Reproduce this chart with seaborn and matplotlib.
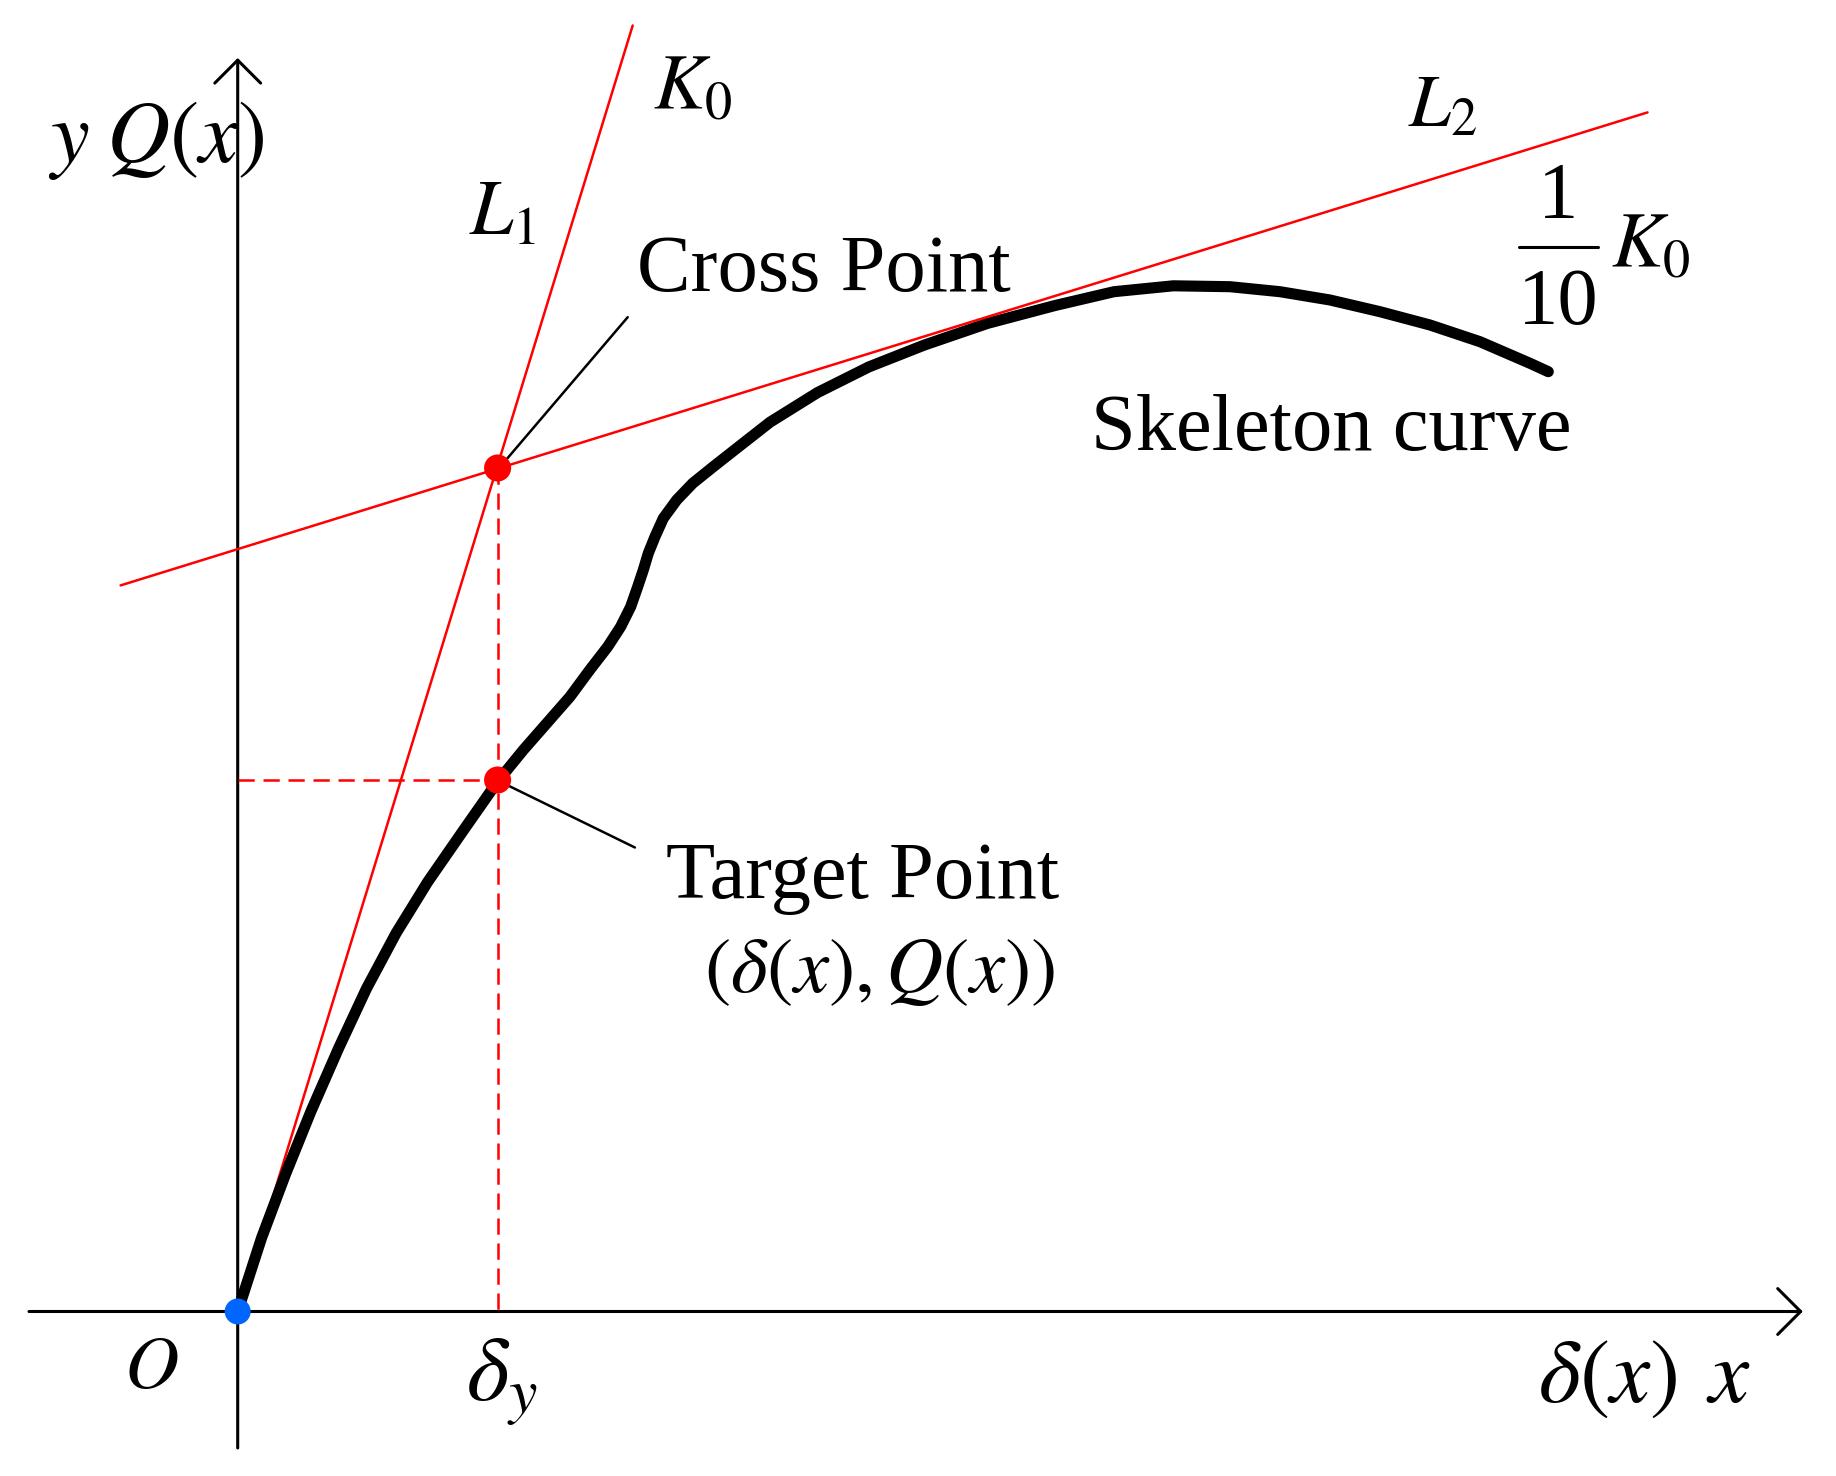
import numpy as np
import pandas as pd
import matplotlib
matplotlib.use("Agg")
import matplotlib.pyplot as plt
import seaborn as sns

# -----------------------------------
# Data (origin at O, 1 unit ~ 100 px of the figure)
# -----------------------------------
curve_x = [0.0, 0.239, 0.477, 0.733, 1.01, 1.287, 1.583, 1.90, 2.256, 2.599,
           2.856, 3.09, 3.323, 3.52, 3.70, 3.83, 3.93, 4.0, 4.056, 4.106,
           4.173, 4.256, 4.39, 4.55, 4.756, 4.99, 5.323, 5.798, 6.312, 6.865,
           7.498, 8.17, 8.763, 9.356, 9.923, 10.423, 10.923, 11.423, 11.923, 12.423,
           12.923, 13.106]
curve_y = [0.0, 0.737, 1.37, 2.003, 2.635, 3.228, 3.782, 4.296, 4.81, 5.30,
           5.615, 5.882, 6.148, 6.415, 6.648, 6.848, 7.048, 7.248, 7.415, 7.582,
           7.748, 7.932, 8.115, 8.282, 8.448, 8.632, 8.893, 9.189, 9.446, 9.664,
           9.881, 10.059, 10.198, 10.257, 10.248, 10.198, 10.115, 9.998, 9.865, 9.698,
           9.482, 9.398]

l1_x = [0.0, 3.95]
l1_y = [0.0, 12.86]
l2_x = [-1.171, 14.098]
l2_y = [7.261, 11.991]

cross_x, cross_y = 2.599, 8.435
target_x, target_y = 2.599, 5.315

x_axis_range = [-2.087, 15.651]
y_axis_range = [-1.365, 12.535]

df = pd.DataFrame({"x": curve_x, "y": curve_y})

# -----------------------------------
# Figure
# -----------------------------------
sns.set_theme(style="white")
plt.rcParams["font.family"] = ["Liberation Serif", "DejaVu Serif"]
plt.rcParams["mathtext.fontset"] = "stix"
plt.rcParams["text.color"] = "black"

fig = plt.figure(figsize=(18.36, 14.76), dpi=100)
ax = fig.add_axes([0, 0, 1, 1])
ax.set_xlim(-2.377, 15.983)
ax.set_ylim(-1.645, 13.115)
ax.axis("off")

# axes with open arrow heads
arrow_kw = dict(arrowstyle="->,head_length=16.5,head_width=16.5", mutation_scale=1,
                lw=2.2, color="black", shrinkA=0, shrinkB=0)
ax.annotate("", xy=(x_axis_range[1], 0), xytext=(x_axis_range[0], 0), arrowprops=arrow_kw)
ax.annotate("", xy=(0, y_axis_range[1]), xytext=(0, y_axis_range[0]), arrowprops=arrow_kw)

# tangent lines
ax.plot(l1_x, l1_y, color="#FF0000", lw=1.8, zorder=2)
ax.plot(l2_x, l2_y, color="#FF0000", lw=1.8, zorder=4)

# skeleton curve
sns.lineplot(data=df, x="x", y="y", sort=False, color="black", lw=8,
             solid_capstyle="round", solid_joinstyle="round", ax=ax, zorder=3)

# dashed guides
ax.plot([0, target_x], [target_y, target_y], color="#FF0000", lw=1.8,
        dashes=(6.5, 3.5), zorder=4)
ax.plot([cross_x, cross_x], [cross_y, 0], color="#FF0000", lw=1.8,
        dashes=(6.5, 3.5), zorder=4)

# leader lines
ax.plot([2.67, 3.90], [8.50, 9.943], color="black", lw=1.8, zorder=4)
ax.plot([2.673, 3.972], [5.275, 4.64], color="black", lw=1.8, zorder=4)

# points
sns.scatterplot(x=[cross_x, target_x], y=[cross_y, target_y], s=380,
                color="#FF0000", edgecolor="none", ax=ax, zorder=5)
sns.scatterplot(x=[0.0], y=[0.0], s=350, color="#0066FF", edgecolor="none",
                ax=ax, zorder=5)

# labels
fs = 58
ax.text(-1.897, 11.495, r"$y\;Q(x)$", fontsize=63, ha="left", va="baseline")
ax.text(4.153, 12.025, r"$K_0$", fontsize=56, ha="left", va="baseline")
ax.text(2.313, 10.775, r"$L_1$", fontsize=56, ha="left", va="baseline")
ax.text(11.703, 11.855, r"$L_2$", fontsize=54, ha="left", va="baseline")

# 1/10 K0 written as a stacked fraction
ax.text(13.205, 10.93, "1", fontsize=fs, ha="center", va="baseline")
ax.plot([12.813, 13.603], [10.648, 10.648], color="black", lw=2.2)
ax.text(13.205, 9.875, "10", fontsize=fs, ha="center", va="baseline")
ax.text(13.733, 10.449, r"$K_0$", fontsize=56, ha="left", va="baseline")

ax.text(3.993, 10.205, "Cross Point", fontsize=fs, ha="left", va="baseline")
ax.text(8.53, 8.615, "Skeleton curve", fontsize=fs, ha="left", va="baseline")
ax.text(4.283, 4.135, "Target Point", fontsize=fs, ha="left", va="baseline")
ax.text(6.42, 3.195, r"$(\delta(x),Q(x))$", fontsize=57, ha="center", va="baseline")
ax.text(-1.14, -0.765, r"$O$", fontsize=54, ha="left", va="baseline")
ax.text(2.283, -0.885, r"$\delta_y$", fontsize=66, ha="left", va="baseline")
ax.text(13.0, -0.905, r"$\delta(x)\;\,x$", fontsize=65, ha="left", va="baseline")

plt.savefig("out.png", dpi=100)
plt.close()
